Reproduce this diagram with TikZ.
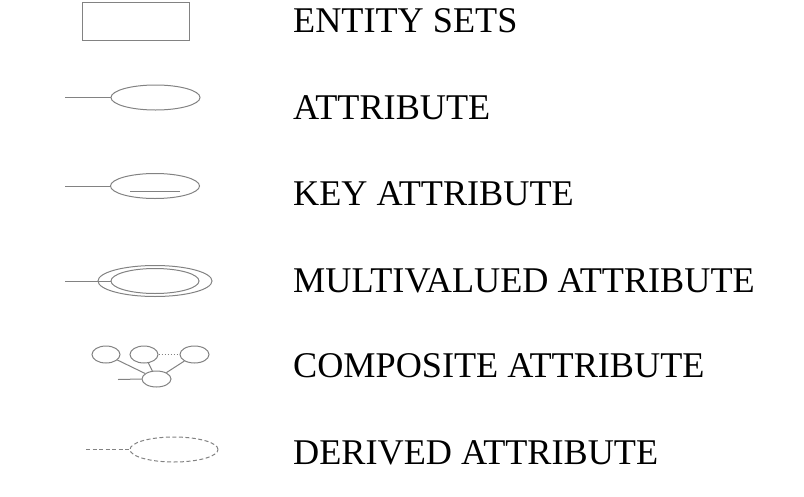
\documentclass[tikz,border=0pt]{standalone}
\usepackage{fontspec}
\setmainfont{Liberation Serif}
\usetikzlibrary{shapes.geometric}
\definecolor{erline}{RGB}{130,130,130}
\begin{document}
\begin{tikzpicture}[x=1pt,y=-1pt,
  attr/.style={draw=erline,line width=1pt,ellipse,inner sep=0pt,minimum width=89pt,minimum height=25pt},
  small/.style={draw=erline,line width=1pt,ellipse,inner sep=0pt,minimum width=28pt,minimum height=17pt},
  lbl/.style={anchor=base west,inner sep=0pt,font=\fontsize{36.2}{40}\selectfont}]
\useasboundingbox (0,0) rectangle (804,496);
\draw[erline,line width=1pt] (82.3,2.7) rectangle (189.3,40);
\node[attr] (attr) at (155.5,97.5) {};
\coordinate (attrend) at (65,97.5);
\draw[erline,line width=1pt] (attrend) -- (attr.west);
\node[attr] (key) at (155,186) {};
\coordinate (keyend) at (65,186);
\draw[erline,line width=1pt] (keyend) -- (key.west);
\draw[erline,line width=1pt] (130,191) -- (180,191);
\node[attr,minimum width=114pt,minimum height=31pt] (multi) at (155,281) {};
\node[attr,minimum width=88pt] (multiin) at (155,281) {};
\coordinate (multiend) at (65,281);
\draw[erline,line width=1pt] (multiend) -- (multiin.west);
% composite
\node[small] (cleft) at (106,354.5) {};
\node[small] (cmid) at (144,354.5) {};
\node[small,minimum width=29pt] (cright) at (194.5,354.5) {};
\node[small,minimum width=29pt,minimum height=16pt] (cbot) at (156.5,379) {};
\coordinate (compend) at (118,379.5);
\draw[erline,line width=1pt] (cleft) -- (cbot);
\draw[erline,line width=1pt] (cmid) -- (cbot);
\draw[erline,line width=1pt] (cright) -- (cbot);
\draw[erline,line width=1pt,dotted] (cmid) -- (cright);
\draw[erline,line width=1pt] (compend) -- (cbot.west);
% derived
\node[attr,dash pattern=on 4pt off 2.5pt,minimum width=88pt] (derived) at (174,449.5) {};
\coordinate (derivedend) at (86,449.5);
\draw[erline,line width=1pt,dash pattern=on 4pt off 2.5pt] (derivedend) -- (derived.west);
\node[lbl] (lentity) at (293,32.5) {ENTITY SETS};
\node[lbl] (lattr) at (293,119) {ATTRIBUTE};
\node[lbl] (lkey) at (293,205.5) {KEY ATTRIBUTE};
\node[lbl] (lmulti) at (293,292) {MULTIVALUED ATTRIBUTE};
\node[lbl] (lcomp) at (293,377.7) {COMPOSITE ATTRIBUTE};
\node[lbl] (lderived) at (293,464) {DERIVED ATTRIBUTE};
\end{tikzpicture}
\end{document}
